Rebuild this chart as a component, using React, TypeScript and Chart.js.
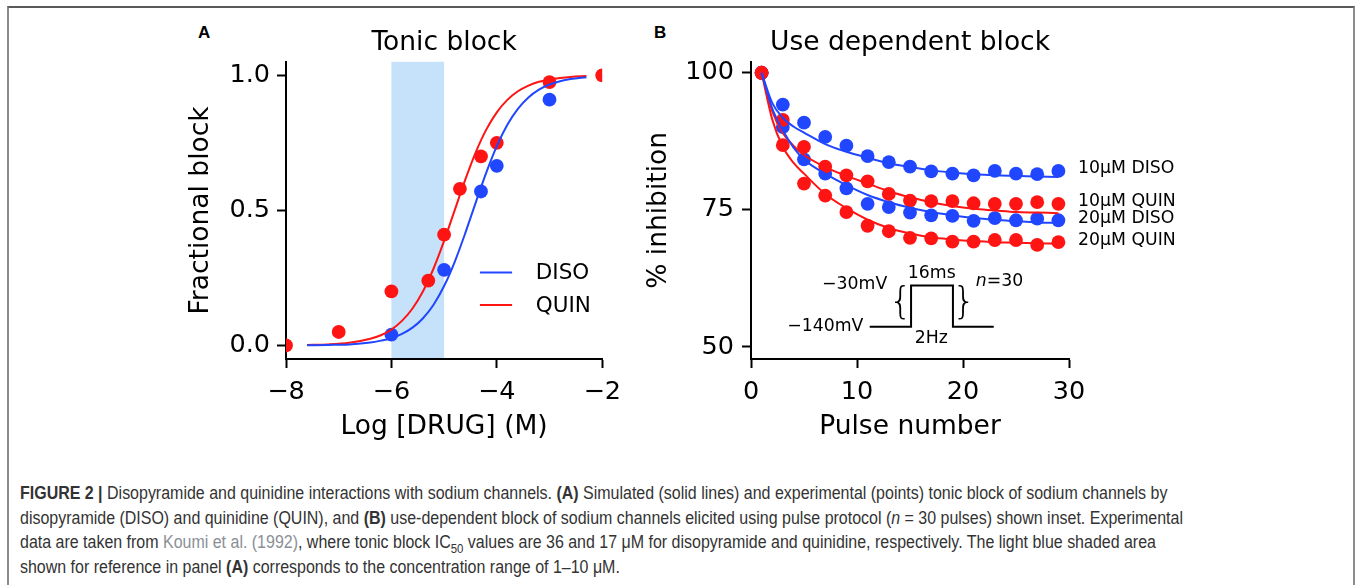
import React, { useEffect, useRef } from "react";
import { Chart, registerables } from "chart.js";

Chart.register(...registerables);

const FONT = '"DejaVu Sans", "Liberation Sans", sans-serif';
const BLUE = "#2047ff";
const RED = "#ff1414";
const SHADE = "#c6e1fa";

// ---------- Panel A : tonic block ----------
const aXTicks = [-8, -6, -4, -2];
const aYTicks = [0, 0.5, 1.0];
const shadeRange = [-6, -5];
const quinExpX = [-8, -7, -6, -5.3, -5, -4.7, -4.3, -4, -3, -2];
const quinExpY = [0.0, 0.05, 0.2, 0.24, 0.41, 0.58, 0.7, 0.75, 0.975, 1.0];
const disoExpX = [-6, -5, -4.3, -4, -3];
const disoExpY = [0.04, 0.28, 0.57, 0.665, 0.91];
const simX = [-7.6, -7.2, -6.8, -6.4, -6.2, -6.0, -5.8, -5.6, -5.4, -5.2, -5.0, -4.8, -4.6, -4.4, -4.2, -4.0, -3.8, -3.6, -3.4, -3.2, -3.0, -2.8, -2.6, -2.3];
const quinSimY = [0.002, 0.004, 0.01, 0.025, 0.038, 0.059, 0.091, 0.137, 0.201, 0.285, 0.387, 0.5, 0.613, 0.715, 0.799, 0.863, 0.909, 0.941, 0.962, 0.976, 0.984, 0.99, 0.994, 0.997];
const disoSimY = [0.001, 0.002, 0.004, 0.011, 0.018, 0.027, 0.043, 0.066, 0.101, 0.151, 0.22, 0.309, 0.415, 0.529, 0.64, 0.738, 0.817, 0.876, 0.918, 0.947, 0.966, 0.978, 0.986, 0.993];
const legendLabels = ["DISO", "QUIN"];

// ---------- Panel B : use dependent block ----------
const bXTicks = [0, 10, 20, 30];
const bYTicks = [50, 75, 100];
const pulses = [1, 3, 5, 7, 9, 11, 13, 15, 17, 19, 21, 23, 25, 27, 29];
const diso10 = [100, 94.2, 90.9, 88.3, 86.7, 84.8, 83.7, 82.9, 82.0, 81.6, 81.3, 82.1, 81.6, 81.5, 82.1];
const quin10 = [100, 91.4, 86.5, 82.9, 81.3, 80.2, 77.9, 76.7, 76.6, 76.6, 76.2, 76.1, 76.1, 76.4, 76.1];
const diso20 = [100, 90.1, 84.2, 81.6, 78.9, 76.1, 75.5, 74.5, 74.0, 73.9, 73.0, 73.5, 73.1, 73.4, 73.1];
const quin20 = [100, 86.8, 79.8, 77.6, 74.6, 72.1, 71.1, 69.9, 69.8, 69.2, 69.2, 69.5, 69.5, 68.6, 69.1];
const simPulses = [1, 2, 3, 4, 5, 7, 9, 11, 13, 15, 17, 19, 21, 23, 25, 27, 29];
const diso10Sim = [100, 94.5, 91.8, 90.2, 89.1, 87.0, 85.6, 84.5, 83.5, 82.8, 82.2, 81.8, 81.5, 81.3, 81.2, 81.1, 81.0];
const quin10Sim = [100, 93.0, 89.0, 86.7, 85.0, 82.8, 81.2, 79.8, 78.4, 77.3, 76.4, 75.7, 75.2, 74.9, 74.6, 74.5, 74.4];
const diso20Sim = [100, 93.5, 89.5, 86.4, 84.2, 81.6, 79.5, 77.7, 76.4, 75.4, 74.6, 74.0, 73.5, 73.2, 72.9, 72.7, 72.6];
const quin20Sim = [100, 91.5, 86.5, 83.6, 81.6, 77.9, 75.3, 73.2, 71.7, 70.7, 70.0, 69.6, 69.3, 69.1, 69.0, 68.9, 68.8];
const seriesLabels = ["10\u03bcM DISO", "10\u03bcM QUIN", "20\u03bcM DISO", "20\u03bcM QUIN"];
// pulse protocol inset (pulse number / % axis units)
const protoX = [11.2, 15.1, 15.1, 19.05, 19.05, 22.9];
const protoY = [53.7, 53.7, 61.2, 61.2, 53.7, 53.7];

const pts = (xs: number[], ys: number[]) => xs.map((x, i) => ({ x, y: ys[i] }));
const minus = (v: number) => (v < 0 ? "\u2212" + Math.abs(v) : String(v));

function makeScale(
  min: number, max: number, ticks: number[], fmt: (v: number) => string,
  title: string, size: number, isX: boolean, titlePad: any, tickPad: number
) {
  const f = { family: FONT, size: 25.5 };
  const tf = { family: FONT, size: 26.5 };
  return {
    type: "linear",
    min, max,
    afterBuildTicks: (s: any) => { s.ticks = ticks.map((v) => ({ value: v })); },
    afterFit: (s: any) => { if (isX) s.height = size; else s.width = size; },
    grid: { display: true, drawOnChartArea: false, drawTicks: true, tickLength: 9, tickWidth: 2, tickColor: "#000", color: "#000" },
    border: { display: true, color: "#000", width: 2 },
    ticks: { color: "#000", font: f, padding: tickPad, maxRotation: 0, autoSkip: false, callback: (v: any) => fmt(Number(v)) },
    title: { display: true, text: title, color: "#000", font: tf, padding: titlePad },
  } as any;
}

const titleOpts = (text: string) => ({
  display: true, text, color: "#000", fullSize: false,
  font: { family: FONT, size: 26.5, weight: "normal" as const },
  padding: { top: 17, bottom: 3 },
});

export default function App() {
  const refA = useRef<HTMLCanvasElement>(null);
  const refB = useRef<HTMLCanvasElement>(null);

  useEffect(() => {
    const shadePlugin = {
      id: "shade",
      beforeDraw(chart: any) {
        const { ctx, chartArea, scales } = chart;
        const x0 = scales.x.getPixelForValue(shadeRange[0]);
        const x1 = scales.x.getPixelForValue(shadeRange[1]);
        ctx.save();
        ctx.fillStyle = SHADE;
        ctx.fillRect(x0, chartArea.top, x1 - x0, chartArea.bottom - chartArea.top);
        ctx.restore();
      },
    };
    const legendPlugin = {
      id: "legendA",
      afterDatasetsDraw(chart: any) {
        const { ctx, scales } = chart;
        const { x, y } = scales;
        const colors = [BLUE, RED];
        const ys = [0.27, 0.15];
        ctx.save();
        ctx.font = `21.5px ${FONT}`;
        ctx.textBaseline = "middle";
        ctx.textAlign = "left";
        legendLabels.forEach((t, i) => {
          const py = y.getPixelForValue(ys[i]);
          ctx.strokeStyle = colors[i];
          ctx.lineWidth = 2;
          ctx.beginPath();
          ctx.moveTo(x.getPixelForValue(-4.32), py);
          ctx.lineTo(x.getPixelForValue(-3.71), py);
          ctx.stroke();
          ctx.fillStyle = "#000";
          ctx.fillText(t, x.getPixelForValue(-3.26), py + 1);
        });
        ctx.restore();
      },
    };

    const lineDs = (data: any, color: string) => ({
      data, showLine: true, borderColor: color, borderWidth: 2, pointRadius: 0,
      cubicInterpolationMode: "monotone", clip: 0, order: 0,
    });
    const dotDs = (data: any, color: string, order: number) => ({
      data, showLine: false, pointRadius: 6.9, pointBackgroundColor: color,
      pointBorderWidth: 0, borderColor: color, clip: 0, order,
    });

    const chartA = new Chart(refA.current as HTMLCanvasElement, {
      type: "scatter",
      data: {
        datasets: [
          lineDs(pts(simX, disoSimY), BLUE),
          lineDs(pts(simX, quinSimY), RED),
          dotDs(pts(quinExpX, quinExpY), RED, 1),
          dotDs(pts(disoExpX, disoExpY), BLUE, 2),
        ] as any,
      },
      options: {
        responsive: false,
        animation: false,
        events: [],
        layout: { padding: { left: 0, right: 25, top: 0, bottom: 0 } },
        plugins: { legend: { display: false }, tooltip: { enabled: false }, title: titleOpts("Tonic block") },
        scales: {
          x: makeScale(-8, -2, aXTicks, minus, "Log [DRUG] (M)", 84, true, { top: 0, bottom: 0 }, 9),
          y: makeScale(-0.05, 1.05, aYTicks, (v) => v.toFixed(1), "Fractional block", 136, false, { top: 35, bottom: 0 }, 7),
        },
      } as any,
      plugins: [shadePlugin, legendPlugin],
    });

    const annotPlugin = {
      id: "annotB",
      afterDatasetsDraw(chart: any) {
        const { ctx, scales } = chart;
        const { x, y } = scales;
        const finals = [diso10, quin10, diso20, quin20].map((s) => s[s.length - 1]);
        ctx.save();
        ctx.fillStyle = "#000";
        ctx.font = `17.3px ${FONT}`;
        ctx.textBaseline = "middle";
        ctx.textAlign = "left";
        seriesLabels.forEach((t, i) => {
          ctx.fillText(t, x.getPixelForValue(30.85), y.getPixelForValue(finals[i] + 0.35));
        });
        // protocol inset labels
        ctx.textAlign = "right";
        ctx.fillText("\u221230mV", x.getPixelForValue(12.85), y.getPixelForValue(61.3));
        ctx.fillText("\u2212140mV", x.getPixelForValue(10.6), y.getPixelForValue(53.7));
        ctx.textAlign = "center";
        ctx.fillText("16ms", x.getPixelForValue(17.05), y.getPixelForValue(63.4));
        ctx.fillText("2Hz", x.getPixelForValue(17.0), y.getPixelForValue(51.6));
        ctx.textAlign = "left";
        const nx = x.getPixelForValue(21.2);
        const ny = y.getPixelForValue(61.9);
        ctx.font = `italic 17.3px ${FONT}`;
        ctx.fillText("n", nx, ny);
        const nw = ctx.measureText("n").width;
        ctx.font = `17.3px ${FONT}`;
        ctx.fillText("=30", nx + nw, ny);
        ctx.font = `200 37px ${FONT}`;
        ctx.textAlign = "center";
        ctx.fillText("{", x.getPixelForValue(14.1), y.getPixelForValue(57.8));
        ctx.fillText("}", x.getPixelForValue(20.1), y.getPixelForValue(57.8));
        ctx.restore();
      },
    };

    const chartB = new Chart(refB.current as HTMLCanvasElement, {
      type: "scatter",
      data: {
        datasets: [
          lineDs(pts(simPulses, diso10Sim), BLUE),
          lineDs(pts(simPulses, diso20Sim), BLUE),
          lineDs(pts(simPulses, quin10Sim), RED),
          lineDs(pts(simPulses, quin20Sim), RED),
          dotDs(pts(pulses, quin10), RED, 1),
          dotDs(pts(pulses, quin20), RED, 1),
          dotDs(pts(pulses, diso10), BLUE, 2),
          dotDs(pts(pulses, diso20), BLUE, 2),
          {
            data: pts(protoX, protoY), showLine: true, borderColor: "#000", borderWidth: 2,
            pointRadius: 0, tension: 0, clip: false, order: 0,
          },
        ] as any,
      },
      options: {
        responsive: false,
        animation: false,
        events: [],
        layout: { padding: { left: 0, right: 131, top: 0, bottom: 0 } },
        plugins: { legend: { display: false }, tooltip: { enabled: false }, title: titleOpts("Use dependent block") },
        scales: {
          x: makeScale(0, 30, bXTicks, (v) => String(v), "Pulse number", 84, true, { top: 0, bottom: 0 }, 9),
          y: makeScale(47.8, 102, bYTicks, (v) => String(v), "% inhibition", 111, false, { top: 3.5, bottom: 0 }, 8),
        },
      } as any,
      plugins: [annotPlugin],
    });

    return () => {
      chartA.destroy();
      chartB.destroy();
    };
  }, []);

  const capLine: React.CSSProperties = { height: 24.5 };
  const panelLabel: React.CSSProperties = {
    position: "absolute", top: 23, fontFamily: '"Liberation Sans", Arial, sans-serif', fontWeight: 700,
    fontSize: 17, lineHeight: "20px", color: "#000",
  };
  return (
    <div style={{ position: "absolute", left: 0, top: 0, width: 1357, height: 585, overflow: "hidden", background: "#fff" }}>
      <div
        style={{
          position: "absolute", left: 7, top: 6, width: 1348, height: 600, boxSizing: "border-box",
          borderTop: "2px solid #5a5a5a", borderLeft: "2px solid #8c8c8c", borderRight: "2px solid #8c8c8c",
        }}
      />
      <div style={{ ...panelLabel, left: 198 }}>A</div>
      <div style={{ ...panelLabel, left: 654 }}>B</div>
      <canvas ref={refA} width={480} height={433} style={{ position: "absolute", left: 150, top: 10, width: 480, height: 433 }} />
      <canvas ref={refB} width={560} height={433} style={{ position: "absolute", left: 640, top: 10, width: 560, height: 433 }} />
      <div
        style={{
          position: "absolute", left: 20, top: 481, fontFamily: '"Liberation Sans", Arial, sans-serif', fontSize: 17.5,
          lineHeight: "24.5px", color: "#333", whiteSpace: "nowrap", transform: "scaleX(0.913)", transformOrigin: "0 0",
        }}
      >
        <div style={capLine}>
          <b>FIGURE 2 |</b> Disopyramide and quinidine interactions with sodium channels. <b>(A)</b> Simulated (solid lines) and experimental (points) tonic block of sodium channels by
        </div>
        <div style={capLine}>
          disopyramide (DISO) and quinidine (QUIN), and <b>(B)</b> use-dependent block of sodium channels elicited using pulse protocol (<i>n</i> = 30 pulses) shown inset. Experimental
        </div>
        <div style={capLine}>
          data are taken from <span style={{ color: "#8a8f96" }}>Koumi et al. (1992)</span>, where tonic block IC<sub style={{ fontSize: 12.5, lineHeight: 0 }}>50</sub> values are 36 and 17 {"\u03bc"}M for disopyramide and quinidine, respectively. The light blue shaded area
        </div>
        <div style={capLine}>
          shown for reference in panel <b>(A)</b> corresponds to the concentration range of 1{"\u2013"}10 {"\u03bc"}M.
        </div>
      </div>
    </div>
  );
}
